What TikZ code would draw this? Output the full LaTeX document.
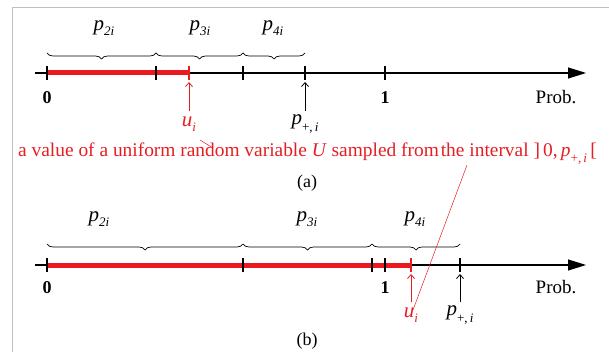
\documentclass[tikz,border=0pt]{standalone}
\usepackage{fontspec}
\setmainfont{Liberation Serif}
\usetikzlibrary{arrows.meta,decorations.pathreplacing,calc}
\newcommand{\pv}[1]{\textit{p}\raisebox{-0.22em}{\fontsize{13}{13}\selectfont\textit{#1}}}
\newcommand{\pplus}{\textit{p}\raisebox{-0.3em}{\fontsize{13}{13}\selectfont +,\,\textit{i}}}
\newcommand{\ui}{\textit{u}\raisebox{-0.22em}{\fontsize{13}{13}\selectfont\textit{i}}}
\begin{document}
\begin{tikzpicture}[x=1pt,y=-1pt,
  axisline/.style={line width=1.2pt,-{Triangle[length=18pt,width=11pt]}},
  redbar/.style={line width=5pt,draw={rgb,255:red,235;green,25;blue,30}},
  tickmark/.style={line width=1.4pt},
  bracestyle/.style={line width=0.7pt,decorate,decoration={brace,amplitude=6pt,mirror}},
  plab/.style={font=\fontsize{21}{21}\selectfont,inner sep=0pt},
  numlab/.style={font=\fontsize{18}{18}\selectfont\bfseries,inner sep=0pt},
  problab/.style={font=\fontsize{19}{19}\selectfont,inner sep=0pt},
  redtxt/.style={text={rgb,255:red,230;green,30;blue,35},inner sep=0pt},
  uparrow/.style={line width=0.8pt,-{Straight Barb[length=4pt,width=7pt]}},
  caplab/.style={font=\fontsize{18}{18}\selectfont,inner sep=0pt}
]
\definecolor{myred}{RGB}{230,30,35}
\useasboundingbox (0,0) rectangle (609,352);
\draw[black!25,line width=1pt] (12,352) -- (12,8) -- (609,8);

% ---------- panel (a)
\coordinate (As) at (35,73);
\coordinate (Ae) at (586,73);
\coordinate (t0) at (47,73);
\coordinate (t2) at (156,73);
\coordinate (tu) at (189,73);
\coordinate (t3) at (243,73);
\coordinate (tp) at (305,73);
\coordinate (t1) at (385,73);
\draw[axisline] (As) -- (Ae);
\draw[redbar] (t0) -- (tu);
\foreach \c in {t0,t2,t3,tp,t1}{\draw[tickmark] ($(\c)+(0,-7)$) -- ($(\c)+(0,7)$);}
\draw[tickmark,myred] ($(tu)+(0,-7)$) -- ($(tu)+(0,7)$);

\coordinate (b0) at (47,53);
\coordinate (b2) at (156,53);
\coordinate (b3) at (243,53);
\coordinate (b4) at (305,53);
\draw[bracestyle] (b0) -- (b2);
\draw[bracestyle] (b2) -- (b3);
\draw[bracestyle] (b3) -- (b4);
\node[plab] (p2a) at (104,28) {\pv{2i}};
\node[plab] (p3a) at (200,28) {\pv{3i}};
\node[plab] (p4a) at (273,28) {\pv{4i}};

\node[numlab] (z0a) at (47,98) {0};
\node[numlab] (o1a) at (385,98) {1};
\node[problab] (proba) at (556,97) {Prob.};

\node[plab,redtxt] (ua) at (189,124) {\ui};
\node[plab] (ppa) at (305,124) {\pplus};
\coordinate (uaT) at (189,82);
\coordinate (ppaT) at (305,82);
\coordinate (uaB) at (189,111);
\coordinate (ppaB) at (305,111);
\draw[uparrow,myred] (uaB) -- (uaT);
\draw[uparrow] (ppaB) -- (ppaT);

\node[redtxt,font=\fontsize{19.4}{19.4}\selectfont,anchor=west] (ann) at (18,154)
  {a value of a uniform random variable \textit{U} sampled from\hspace{-0.15em} the interval ]\,0,\,\pplus\,[};
\coordinate (l1s) at (200,140);
\coordinate (l1e) at (213,148);
\draw[myred,line width=0.5pt] (l1s) -- (l1e);

\node[caplab] (capa) at (307,183) {(a)};

% ---------- panel (b)
\coordinate (Bs) at (35,265);
\coordinate (Be) at (586,265);
\coordinate (s0) at (47,265);
\coordinate (s2) at (243,265);
\coordinate (s3) at (372,265);
\coordinate (s1) at (385,265);
\coordinate (su) at (411,265);
\coordinate (sp) at (460,265);
\draw[axisline] (Bs) -- (Be);
\draw[redbar] (s0) -- (su);
\foreach \c in {s0,s2,s3,s1,sp}{\draw[tickmark] ($(\c)+(0,-7)$) -- ($(\c)+(0,7)$);}
\draw[tickmark,myred] ($(su)+(0,-7)$) -- ($(su)+(0,7)$);

\coordinate (c0) at (47,244);
\coordinate (c2) at (243,244);
\coordinate (c3) at (372,244);
\coordinate (c4) at (460,244);
\draw[bracestyle] (c0) -- (c2);
\draw[bracestyle] (c2) -- (c3);
\draw[bracestyle] (c3) -- (c4);
\node[plab] (p2b) at (99,219) {\pv{2i}};
\node[plab] (p3b) at (307,219) {\pv{3i}};
\node[plab] (p4b) at (415,219) {\pv{4i}};

\node[numlab] (z0b) at (47,288) {0};
\node[numlab] (o1b) at (385,288) {1};
\node[problab] (probb) at (556,287) {Prob.};

\node[plab,redtxt] (ub) at (411,315) {\ui};
\node[plab] (ppb) at (460,315) {\pplus};
\coordinate (ubT) at (411,274);
\coordinate (ppbT) at (460,274);
\coordinate (ubB) at (411,302);
\coordinate (ppbB) at (460,302);
\draw[uparrow,myred] (ubB) -- (ubT);
\draw[uparrow] (ppbB) -- (ppbT);

\coordinate (l2s) at (467,165);
\coordinate (l2e) at (413,310);
\draw[myred,line width=0.5pt] (l2s) -- (l2e);

\node[caplab] (capb) at (307,341) {(b)};
\end{tikzpicture}
\end{document}
